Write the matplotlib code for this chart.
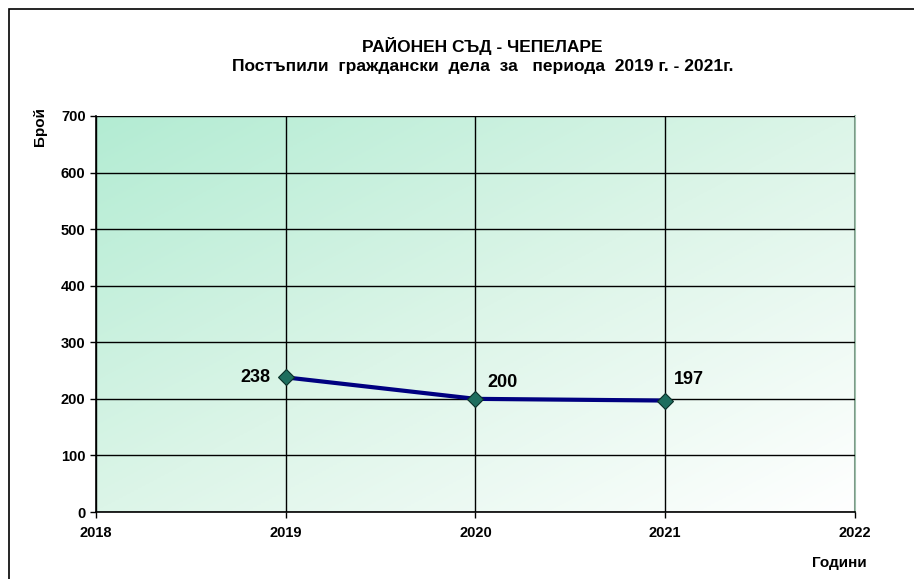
import numpy as np
import matplotlib.pyplot as plt
from matplotlib.colors import LinearSegmentedColormap
from matplotlib.patches import Rectangle

plt.rcParams['font.family'] = ['Liberation Sans', 'DejaVu Sans']

years = [2019, 2020, 2021]
cases = [238, 200, 197]
# label offsets in points (dx, dy, ha)
label_offsets = [(-11, 0, 'right'), (8.5, 11.5, 'left'), (6, 15, 'left')]

title = 'РАЙОНЕН СЪД - ЧЕПЕЛАРЕ\nПостъпили  граждански  дела  за   периода  2019 г. - 2021г.'

fig = plt.figure(figsize=(9.14, 5.79), dpi=100)
ax = fig.add_axes([0.105, 0.1157, 0.8304, 0.684])

# outer frame
fig.patches.append(Rectangle((9 / 914, -0.05), 1.0, 1 - 9 / 579 + 0.05, transform=fig.transFigure,
                             fill=False, edgecolor='black', linewidth=1.2, zorder=0))

# diagonal gradient background, green at top-left
gx, gy = np.meshgrid(np.linspace(0, 1, 200), np.linspace(0, 1, 200))
grad = (gx + gy) / 2
cmap = LinearSegmentedColormap.from_list('g', ['#b3ecd3', '#dcf5e8', '#ffffff'])
ax.imshow(grad, extent=[2018, 2022, 0, 700], origin='upper', aspect='auto', cmap=cmap, zorder=0)

ax.set_xlim(2018, 2022)
ax.set_ylim(0, 700)
ax.set_xticks([2018, 2019, 2020, 2021, 2022])
ax.set_yticks(range(0, 701, 100))
ax.grid(True, color='black', linewidth=1.0, zorder=1)
ax.set_axisbelow(False)

ax.plot(years, cases, color='#000080', linewidth=3, zorder=3)
ax.plot(years, cases, linestyle='none', marker='D', markersize=8,
        markerfacecolor='#1e6e5e', markeredgecolor='#0a2f28', markeredgewidth=0.8, zorder=4)

for x, y, (dx, dy, ha) in zip(years, cases, label_offsets):
    ax.annotate(str(y), (x, y), xytext=(dx, dy), textcoords='offset points',
                ha=ha, va='center', fontsize=13, fontweight='bold', zorder=5)

for s in ['left', 'bottom']:
    ax.spines[s].set_color('black')
    ax.spines[s].set_linewidth(1.2)
ax.spines['right'].set_color('#9cbfaa')
ax.spines['right'].set_linewidth(1.5)
ax.spines['top'].set_color('#d8d8d8')

ax.tick_params(axis='both', direction='out', length=4, width=1, labelsize=10.5)
for lab in ax.get_xticklabels() + ax.get_yticklabels():
    lab.set_fontweight('bold')
ax.tick_params(axis='x', pad=6)

fig.text(0.528, 0.904, title, ha='center', va='center', fontsize=12.5, fontweight='bold', linespacing=1.3)
fig.text(0.044, 0.815, 'Брой', rotation=90, ha='center', va='top', fontsize=11, fontweight='bold')
fig.text(0.918, 0.028, 'Години', ha='center', va='center', fontsize=11, fontweight='bold')

fig.savefig('out.png', dpi=100)
